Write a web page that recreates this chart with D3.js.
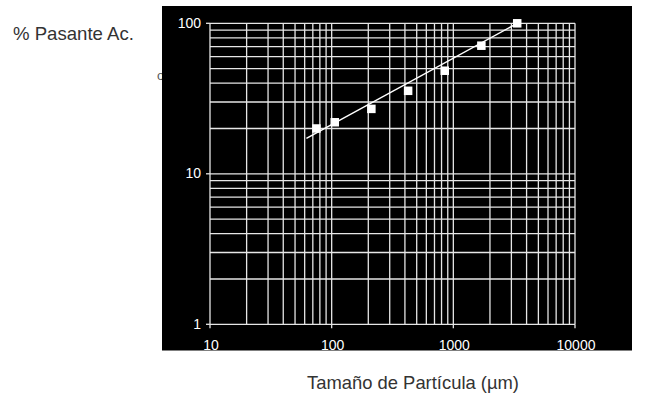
<!DOCTYPE html>
<html>
<head>
<meta charset="utf-8">
<script src="https://cdn.jsdelivr.net/npm/d3@7"></script>
<style>
  body { margin: 0; background: #fff; }
  text { font-family: "Liberation Sans", Arial, sans-serif; }
</style>
</head>
<body>
<svg id="chart" width="651" height="394"></svg>
<script>
// particle size (µm) and cumulative % passing
var sizes = [75, 106, 212, 425, 850, 1700, 3350];
var passing = [20, 22, 27, 35.6, 48.4, 71, 100];
// fitted line end points
var fitSizes = [62, 3350];
var fitPassing = [17.2, 100];
var xTickLabels = [10, 100, 1000, 10000];
var yTickLabels = [1, 10, 100];

var svg = d3.select("#chart");

// cut-off glyph sitting behind the panel edge
svg.append("text")
	.attr("x", 157).attr("y", 80)
	.attr("font-size", 13).attr("fill", "#555")
	.text("o");

svg.append("rect")
	.attr("x", 162).attr("y", 6)
	.attr("width", 470).attr("height", 344.5)
	.attr("fill", "#000");

var x = d3.scaleLog().domain([10, 10000]).range([210, 575]);
var y = d3.scaleLog().domain([1, 100]).range([324.3, 23.3]);

var grid = svg.append("g").attr("stroke", "#e6e6e6").attr("stroke-width", 1.3);

grid.selectAll(".vl")
	.data(x.ticks())
	.enter().append("line")
	.attr("x1", function(d) { return x(d); })
	.attr("x2", function(d) { return x(d); })
	.attr("y1", y(1)).attr("y2", y(100));

grid.selectAll(".hl")
	.data(y.ticks())
	.enter().append("line")
	.attr("y1", function(d) { return y(d); })
	.attr("y2", function(d) { return y(d); })
	.attr("x1", x(10)).attr("x2", x(10000));

// small outside ticks
grid.selectAll(".xt")
	.data(xTickLabels)
	.enter().append("line")
	.attr("x1", function(d) { return x(d); })
	.attr("x2", function(d) { return x(d); })
	.attr("y1", y(1)).attr("y2", y(1) + 4);

grid.selectAll(".yt")
	.data(yTickLabels)
	.enter().append("line")
	.attr("y1", function(d) { return y(d); })
	.attr("y2", function(d) { return y(d); })
	.attr("x1", x(10) - 4).attr("x2", x(10));

svg.selectAll(".xl")
	.data(xTickLabels)
	.enter().append("text")
	.attr("x", function(d) { return x(d) + 1; })
	.attr("y", 349.5)
	.attr("text-anchor", "middle")
	.attr("font-size", 14)
	.attr("fill", "#fff")
	.text(function(d) { return d; });

svg.selectAll(".yl")
	.data(yTickLabels)
	.enter().append("text")
	.attr("x", 201)
	.attr("y", function(d) { return y(d) + 4.5; })
	.attr("text-anchor", "end")
	.attr("font-size", 14)
	.attr("fill", "#fff")
	.text(function(d) { return d; });

// fitted line
svg.append("path")
	.datum(d3.zip(fitSizes, fitPassing))
	.attr("d", d3.line()
		.x(function(d) { return x(d[0]); })
		.y(function(d) { return y(d[1]); }))
	.attr("stroke", "#fff")
	.attr("stroke-width", 1.5)
	.attr("fill", "none");

var s = 8.5;
svg.selectAll(".pt")
	.data(d3.zip(sizes, passing))
	.enter().append("rect")
	.attr("x", function(d) { return x(d[0]) - s / 2; })
	.attr("y", function(d) { return y(d[1]) - s / 2; })
	.attr("width", s).attr("height", s)
	.attr("fill", "#fff");

svg.append("text")
	.attr("x", 13).attr("y", 39.5)
	.attr("font-size", 18.6)
	.attr("fill", "#333")
	.text("% Pasante Ac.");

svg.append("text")
	.attr("x", 413).attr("y", 388.5)
	.attr("text-anchor", "middle")
	.attr("font-size", 18.4)
	.attr("fill", "#333")
	.text("Tamaño de Partícula (µm)");
</script>
</body>
</html>
